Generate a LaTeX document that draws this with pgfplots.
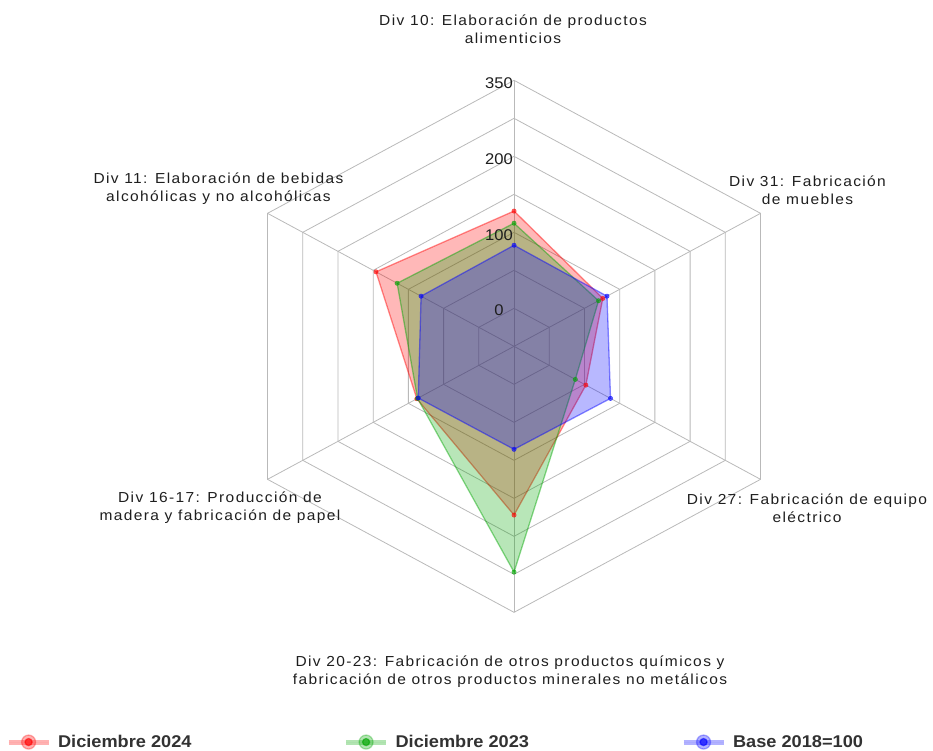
\documentclass[border=0pt]{standalone}
\usepackage{fontspec}
\setmainfont{Liberation Sans}
\newfontfamily\lblfont[FakeStretch=1.07,LetterSpace=9.5]{Liberation Sans}
\newfontfamily\tickfont[FakeStretch=1.07]{Liberation Sans}
\newfontfamily\legfont[FakeStretch=1.07]{Liberation Sans}
\usepackage{pgfplots}
\pgfplotsset{compat=1.18}
\usepackage{pgfplotstable}
\definecolor{cred}{RGB}{255,0,0}
\definecolor{cgreen}{RGB}{0,165,0}
\definecolor{cblue}{RGB}{0,0,255}
\definecolor{gridc}{RGB}{185,185,185}
\definecolor{txt}{RGB}{30,30,30}
\definecolor{legtxt}{RGB}{50,50,50}

\pgfplotstableread{
angle dic24 dic23 base
90   128  112  83
30   76   70   82
-30  52   37   87
-90  172  247  85.5
-150 88   87   86
150  146  116  82
90   128  112  83
}\radar

\begin{document}
\begin{tikzpicture}
\begin{axis}[
  x=0.8132pt, y=0.76pt,
  xmin=-632.1, xmax=515.2, ymin=-531.2, ymax=455.7,
  hide axis, clip=false,
  legend columns=3,
  legend style={at={(axis cs:-624.6,-520.7)}, anchor=west, draw=none, fill=none,
    inner sep=0pt, outer sep=0pt,
    nodes={inner sep=0pt, font=\legfont\bfseries\fontsize{17}{20}\selectfont, text=legtxt},
    /tikz/every even column/.append style={column sep=152pt},
    /tikz/every odd column/.append style={column sep=7pt}},
]
\coordinate (tl) at (rel axis cs:0,1);
\coordinate (bl) at (rel axis cs:0,0);
\coordinate (tr) at (rel axis cs:1,1);

\pgfplotsinvokeforeach{50,100,...,350}{
  \addplot[gridc, line width=0.8pt, data cs=polar, forget plot]
    coordinates {(90,#1) (30,#1) (-30,#1) (-90,#1) (-150,#1) (150,#1) (90,#1)};
}
\pgfplotsinvokeforeach{90,30,-30,-90,-150,150}{
  \addplot[gridc, line width=0.8pt, data cs=polar, forget plot]
    coordinates {(0,0) (#1,350)};
}

\addplot[data cs=polar, draw=cred, draw opacity=0.45, line width=1.3pt,
  fill=cred, fill opacity=0.28, mark=*, mark size=2.2pt, mark indices={1,2,3,4,5,6},
  mark options={draw opacity=0.6, fill opacity=0.6, line width=0.5pt},
  legend image code/.code={
    \draw[cred, line width=5pt, opacity=0.3] (0pt,0pt) -- (40pt,0pt);
    \fill[cred, opacity=0.3] (20pt,0pt) circle[radius=7pt];
    \fill[cred, opacity=0.6] (20pt,0pt) circle[radius=3.5pt];
  }]
  table[x=angle, y expr=\thisrow{dic24}+50] {\radar};
\addlegendentry{Diciembre 2024}

\addplot[data cs=polar, draw=cgreen, draw opacity=0.45, line width=1.3pt,
  fill=cgreen, fill opacity=0.28, mark=*, mark size=2.2pt, mark indices={1,2,3,4,5,6},
  mark options={draw opacity=0.6, fill opacity=0.6, line width=0.5pt},
  legend image code/.code={
    \draw[cgreen, line width=5pt, opacity=0.3] (0pt,0pt) -- (40pt,0pt);
    \fill[cgreen, opacity=0.3] (20pt,0pt) circle[radius=7pt];
    \fill[cgreen, opacity=0.6] (20pt,0pt) circle[radius=3.5pt];
  }]
  table[x=angle, y expr=\thisrow{dic23}+50] {\radar};
\addlegendentry{Diciembre 2023}

\addplot[data cs=polar, draw=cblue, draw opacity=0.45, line width=1.3pt,
  fill=cblue, fill opacity=0.28, mark=*, mark size=2.2pt, mark indices={1,2,3,4,5,6},
  mark options={draw opacity=0.6, fill opacity=0.6, line width=0.5pt},
  legend image code/.code={
    \draw[cblue, line width=5pt, opacity=0.3] (0pt,0pt) -- (40pt,0pt);
    \fill[cblue, opacity=0.3] (20pt,0pt) circle[radius=7pt];
    \fill[cblue, opacity=0.6] (20pt,0pt) circle[radius=3.5pt];
  }]
  table[x=angle, y expr=\thisrow{base}+50] {\radar};
\addlegendentry{Base 2018=100}
\end{axis}

\begin{scope}[shift={(tl)}, every node/.style={text=txt}]
  \begin{scope}[every node/.append style={font=\lblfont\fontsize{14.5}{18}\selectfont, align=center}]
    \node at (513pt,-29pt) {Div 10: Elaboración de productos\\alimenticios};
    \node at (218.5pt,-189pt) {Div 11: Elaboración de bebidas\\alcohólicas y no alcohólicas};
    \node at (807.5pt,-190pt) {Div 31: Fabricación\\de muebles};
    \node at (220pt,-508pt) {Div 16-17: Producción de\\madera y fabricación de papel};
    \node at (807pt,-508.5pt) {Div 27: Fabricación de equipo\\eléctrico};
    \node at (510pt,-671.5pt) {Div 20-23: Fabricación de otros productos químicos y\\fabricación de otros productos minerales no metálicos};
  \end{scope}
  \begin{scope}[every node/.append style={font=\tickfont\fontsize{15.5}{18}\selectfont, inner sep=0pt}]
    \node at (499pt,-310pt) {0};
    \node at (499pt,-235pt) {100};
    \node at (499pt,-159pt) {200};
    \node at (499pt,-83.3pt) {350};
  \end{scope}
\end{scope}
\pgfresetboundingbox
\path[use as bounding box] (bl) rectangle (tr);
\end{tikzpicture}
\end{document}
